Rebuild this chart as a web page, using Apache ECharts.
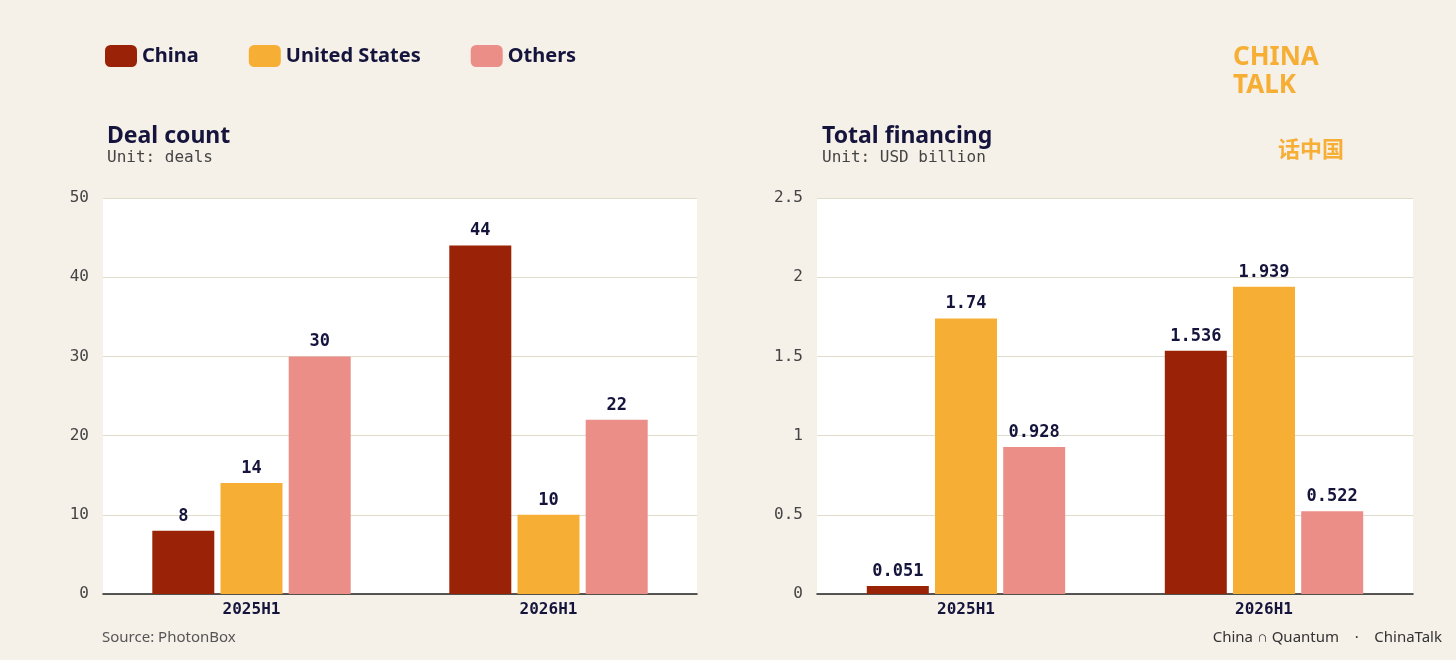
<!DOCTYPE html>
<html><head><meta charset="utf-8">
<script src="https://cdn.jsdelivr.net/npm/echarts@6/dist/echarts.min.js"></script>
<style>html,body{margin:0;background:#f5f0e8}#main{width:1456px;height:660px}</style>
</head><body><div id="main"></div>
<script>
var periods = ['2025H1', '2026H1'];
var dealChina = [8, 44];
var dealUS = [14, 10];
var dealOthers = [30, 22];
var finChina = [0.051, 1.536];
var finUS = [1.74, 1.939];
var finOthers = [0.928, 0.522];

var colors = {China: '#9a2307', 'United States': '#f6ae35', Others: '#ec8e88'};
var navy = '#14143c';
var mono = 'DejaVu Sans Mono';

var myChart = echarts.init(document.getElementById('main'));

function bar(name, data, idx) {
  return {
    name: name, type: 'bar', xAxisIndex: idx, yAxisIndex: idx,
    data: data, barWidth: 62, barGap: '10%',
    itemStyle: {color: colors[name]},
    label: {show: true, position: 'top', distance: 6, color: navy,
      fontFamily: mono, fontWeight: 'bold', fontSize: 17}
  };
}
function xAx(idx) {
  return {type: 'category', gridIndex: idx, data: periods,
    axisLine: {lineStyle: {color: '#222', width: 1.5}}, axisTick: {show: false},
    axisLabel: {color: navy, fontFamily: mono, fontWeight: 'bold', fontSize: 16, margin: 8}};
}
function yAx(idx, max, interval) {
  return {type: 'value', gridIndex: idx, min: 0, max: max, interval: interval,
    axisLine: {show: false}, axisTick: {show: false},
    splitLine: {lineStyle: {color: '#e0dccb'}},
    axisLabel: {color: '#444', fontFamily: mono, fontSize: 16, margin: 14}};
}

var option = {
  backgroundColor: '#f5f0e8',
  animation: false,
  legend: {
    left: 100, top: 40, itemWidth: 32, itemHeight: 22, itemGap: 50,
    textStyle: {color: navy, fontSize: 20, fontWeight: 'bold', fontFamily: 'Noto Sans'},
    data: ['China', 'United States', 'Others']
  },
  title: [
    {text: 'Deal count', subtext: 'Unit: deals', left: 102, top: 120, itemGap: 2,
      textStyle: {color: navy, fontSize: 23, fontWeight: 'bold', fontFamily: 'Noto Sans'},
      subtextStyle: {color: '#444', fontSize: 16, fontFamily: mono}},
    {text: 'Total financing', subtext: 'Unit: USD billion', left: 817, top: 120, itemGap: 2,
      textStyle: {color: navy, fontSize: 23, fontWeight: 'bold', fontFamily: 'Noto Sans'},
      subtextStyle: {color: '#444', fontSize: 16, fontFamily: mono}}
  ],
  grid: [
    {left: 103, top: 198, width: 594, height: 396, show: true, backgroundColor: '#fff', borderWidth: 0},
    {left: 817, top: 198, width: 596, height: 396, show: true, backgroundColor: '#fff', borderWidth: 0}
  ],
  xAxis: [xAx(0), xAx(1)],
  yAxis: [yAx(0, 50, 10), yAx(1, 2.5, 0.5)],
  series: [
    bar('China', dealChina, 0), bar('United States', dealUS, 0), bar('Others', dealOthers, 0),
    bar('China', finChina, 1), bar('United States', finUS, 1), bar('Others', finOthers, 1)
  ],
  graphic: [
    {type: 'text', left: 102, top: 630, style: {text: 'Source: PhotonBox', fill: '#555', font: '15px "Noto Sans"'}},
    {type: 'text', right: 14, top: 630, style: {text: 'China ∩ Quantum    ·    ChinaTalk', fill: '#333', font: '15px "Noto Sans"'}},
    {type: 'text', left: 1233, top: 44, style: {text: 'CHINA\nTALK', fill: '#f6ae35', font: 'bold 26px "Noto Sans"', lineHeight: 28}},
    {type: 'text', left: 1278, top: 138, style: {text: '话中国', fill: '#f6ae35', font: 'bold 22px "Noto Sans CJK SC"'}}
  ]
};
myChart.setOption(option);
</script></body></html>
